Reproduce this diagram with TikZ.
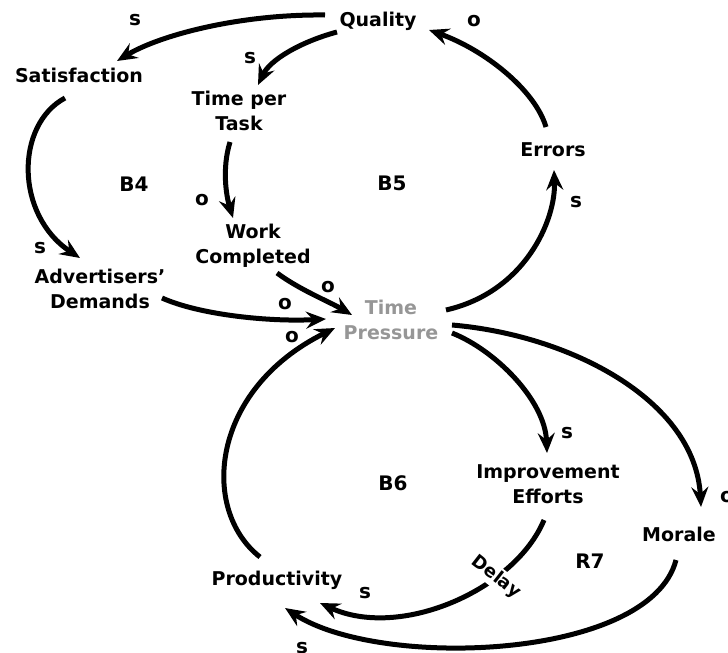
\documentclass[tikz,border=0pt]{standalone}
\usepackage{fontspec}
\setmainfont{DejaVu Sans}
\usetikzlibrary{arrows.meta}
\definecolor{tpgray}{RGB}{150,150,150}
\begin{document}
\begin{tikzpicture}[x=1pt,y=-1pt,
  var/.style={font=\fontsize{19}{25}\selectfont\bfseries, align=center, inner sep=0pt},
  lbl/.style={font=\fontsize{20}{24}\selectfont\bfseries, inner sep=0pt},
  loopname/.style={font=\fontsize{20}{24}\selectfont\bfseries, inner sep=0pt},
  link/.style={line width=5pt, -{Stealth[length=20pt,width=17pt,inset=7pt]}},
]
\useasboundingbox (0,0) rectangle (728,653);

% variables
\node[var] (qual) at (378,21) {Quality};
\node[var] (sat)  at (79,75)  {Satisfaction};
\node[var] (tpt)  at (239,111) {Time per\\Task};
\node[var] (err)  at (553,150) {Errors};
\node[var] (wc)   at (253,246) {Work\\Completed};
\node[var] (adv)  at (100,289) {Advertisers'\\Demands};
\node[var, text=tpgray] (tp) at (391,320) {Time\\Pressure};
\node[var] (ie)   at (548,484) {Improvement\\Efforts};
\node[var] (mor)  at (679,534) {Morale};
\node[var] (prod) at (277,580) {Productivity};

% loop names
\node[loopname] (b4) at (134,184) {B4};
\node[loopname] (b5) at (392,183) {B5};
\node[loopname] (b6) at (393,483) {B6};
\node[loopname] (r7) at (590,561) {R7};

% connectors
\draw[link] ([xshift=-53pt,yshift=6pt]qual.center) .. controls (240,14) and (160,35) .. ([xshift=38pt,yshift=14pt]sat.center);
\draw[link] ([xshift=-41pt,yshift=-11pt]qual.center) .. controls (300,42) and (270,60) .. ([xshift=19pt,yshift=26pt]tpt.center);
\draw[link] ([xshift=-9pt,yshift=-31pt]tpt.center) .. controls (222,168) and (226,195) .. ([xshift=-20pt,yshift=28pt]wc.center);
\draw[link] ([xshift=-14pt,yshift=-23pt]sat.center) .. controls (15,125) and (15,215) .. ([xshift=-20pt,yshift=31pt]adv.center);
\draw[link] ([xshift=62pt,yshift=-9pt]adv.center) .. controls (200,315) and (270,322) .. ([xshift=-65pt,yshift=1pt]tp.center);
\draw[link] ([xshift=24pt,yshift=-27pt]wc.center) .. controls (300,290) and (330,302) .. ([xshift=-39pt,yshift=5pt]tp.center);
\draw[link] ([xshift=-17pt,yshift=23pt]prod.center) .. controls (200,510) and (210,390) .. ([xshift=-56pt,yshift=-8pt]tp.center);
\draw[link] ([xshift=55pt,yshift=10pt]tp.center) .. controls (525,292) and (556,220) .. ([xshift=1pt,yshift=-20pt]err.center);
\draw[link] ([xshift=-7pt,yshift=23pt]err.center) .. controls (535,90) and (485,50) .. ([xshift=51pt,yshift=-9pt]qual.center);
\draw[link] ([xshift=61pt,yshift=-13pt]tp.center) .. controls (495,350) and (545,400) .. ([xshift=-1pt,yshift=31pt]ie.center);
\draw[link] ([xshift=61pt,yshift=-5pt]tp.center) .. controls (570,335) and (695,400) .. ([xshift=22pt,yshift=27pt]mor.center);
\draw[link] ([xshift=-4pt,yshift=-36pt]ie.center) .. controls (515,590) and (400,640) .. ([xshift=43pt,yshift=-23pt]prod.center);
\draw[link] ([xshift=-3pt,yshift=-26pt]mor.center) .. controls (650,660) and (380,670) .. ([xshift=8pt,yshift=-28pt]prod.center);

% delay mark
\node[font=\fontsize{18}{22}\selectfont\bfseries, fill=white, inner sep=2pt, rotate=-38] (delay) at (496,577) {Delay};

% polarity labels
\node[lbl] (l1)  at (135,20)  {s};
\node[lbl] (l2)  at (250,58)  {s};
\node[lbl] (l3)  at (202,200) {o};
\node[lbl] (l4)  at (40,248)  {s};
\node[lbl] (l5)  at (285,304) {o};
\node[lbl] (l6)  at (328,287) {o};
\node[lbl] (l7)  at (292,337) {o};
\node[lbl] (l8)  at (576,202) {s};
\node[lbl] (l9)  at (474,21)  {o};
\node[lbl] (l10) at (567,433) {s};
\node[lbl] (l11) at (727,497) {o};
\node[lbl] (l12) at (365,593) {s};
\node[lbl] (l13) at (302,648) {s};
\end{tikzpicture}
\end{document}
